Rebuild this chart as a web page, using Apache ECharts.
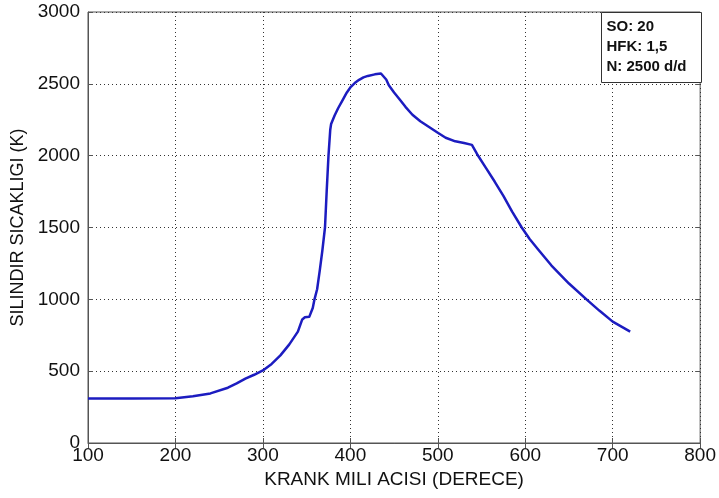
<!DOCTYPE html>
<html><head><meta charset="utf-8">
<script src="https://cdn.jsdelivr.net/npm/echarts@6/dist/echarts.min.js"></script>
<style>html,body{margin:0;padding:0;background:#fff}#c{width:719px;height:498px}</style>
</head><body><div id="c"></div>
<script>
const crankAngle = [100,150,200,220,240,260,270,280,290,300,310,320,330,340,345,348,353,357,359,362,365,368,371,373,375,377,378,382,386,391,396,400,405,410,415,420,428,435,437,441,444,450,456,463,471,480,490,500,509,520,530,539,545,555,565,575,585,596,605,615,630,650,670,685,700,720];
const temperature = [310,310,312,325,345,385,415,448,475,505,550,610,685,775,860,875,878,940,1000,1070,1200,1340,1500,1760,2000,2180,2220,2280,2330,2385,2440,2475,2505,2528,2545,2555,2566,2572,2568,2530,2490,2440,2395,2340,2285,2240,2200,2160,2125,2100,2088,2075,2010,1915,1820,1720,1610,1500,1420,1345,1235,1110,1000,920,845,775];
const xTicks = [100,200,300,400,500,600,700,800];
const yTicks = [0,500,1000,1500,2000,2500,3000];
const noteLines = ['SO: 20','HFK: 1,5','N: 2500 d/d'];

const font = 'Liberation Sans, Arial, sans-serif';
const chart = echarts.init(document.getElementById('c'));
const grid = {left:88, right:17, top:12, bottom:55};
const gridLine = {show:true, lineStyle:{color:'#333', type:[1,3], width:1}};
chart.setOption({
  animation:false,
  grid: Object.assign({show:true, borderColor:'#555', borderWidth:1, backgroundColor:'#fff'}, grid),
  xAxis:[{
    type:'value', min:xTicks[0], max:xTicks[xTicks.length-1], interval:100,
    name:'KRANK MILI ACISI (DERECE)', nameLocation:'middle', nameGap:26,
    nameTextStyle:{color:'#111', fontSize:19, fontFamily:font},
    axisLine:{show:true, onZero:false, lineStyle:{color:'#555'}},
    axisTick:{show:true, inside:true, length:5, lineStyle:{color:'#555'}},
    axisLabel:{color:'#111', fontSize:19, fontFamily:font, margin:3, formatter:v=>String(v)},
    splitLine:gridLine
  },{
    type:'value', position:'top', min:100, max:800, interval:100,
    axisLine:{show:false}, axisTick:{show:true, inside:true, length:5, lineStyle:{color:'#555'}},
    axisLabel:{show:false}, splitLine:{show:false}
  }],
  yAxis:[{
    type:'value', min:yTicks[0], max:yTicks[yTicks.length-1], interval:500,
    name:'SILINDIR SICAKLIGI (K)', nameLocation:'middle', nameGap:59, nameRotate:90,
    nameTextStyle:{color:'#111', fontSize:18, fontFamily:font},
    axisLine:{show:true, lineStyle:{color:'#555'}},
    axisTick:{show:true, inside:true, length:5, lineStyle:{color:'#555'}},
    axisLabel:{color:'#111', fontSize:19, fontFamily:font, margin:8, formatter:v=>String(v)},
    splitLine:gridLine
  },{
    type:'value', position:'right', min:0, max:3000, interval:500,
    axisLine:{show:false}, axisTick:{show:true, inside:true, length:5, lineStyle:{color:'#555'}},
    axisLabel:{show:false}, splitLine:{show:false}
  }],
  series:[{
    type:'line', data:crankAngle.map((x,i)=>[x,temperature[i]]),
    showSymbol:false, smooth:false, lineStyle:{color:'#1c1cc0', width:2.5, join:'round'}, z:5
  }],
  graphic:[{
    type:'group', right:17, top:12, z:100,
    children:[
      {type:'rect', z:100, shape:{x:0,y:0,width:100,height:70}, style:{fill:'#fff', stroke:'#333', lineWidth:1}},
      {type:'text', z:101, left:5, top:4, style:{text:noteLines.join('\n'), font:'bold 15px '+font, fill:'#111', lineHeight:20}}
    ]
  }]
});
</script></body></html>
